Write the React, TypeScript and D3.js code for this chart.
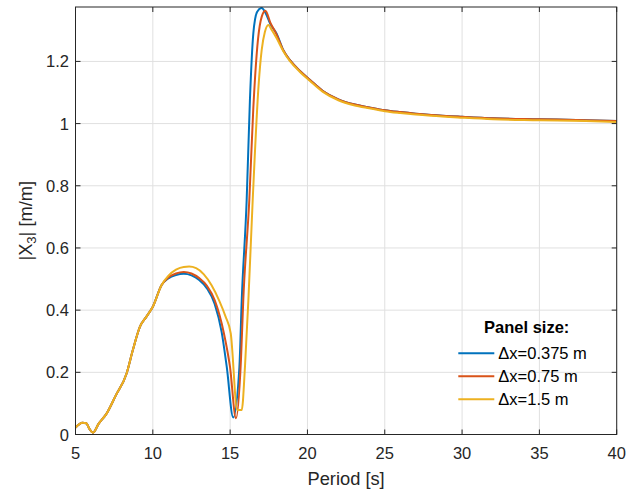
import React from "react";
import * as d3 from "d3";

const xTicks = [5, 10, 15, 20, 25, 30, 35, 40];
const yTicks = [0, 0.2, 0.4, 0.6, 0.8, 1, 1.2];
const yTickLabels = ["0", "0.2", "0.4", "0.6", "0.8", "1", "1.2"];

const seriesNames = ["\u0394x=0.375 m", "\u0394x=0.75 m", "\u0394x=1.5 m"];
const seriesColors = ["#0072BD", "#D95319", "#EDB120"];

const commonPeriods = [5.0, 5.45, 5.7, 5.9, 6.13, 6.5, 7.02, 7.6, 8.31, 8.7, 9.17, 9.6, 10.0, 10.57];
const commonValues = [0.022, 0.038, 0.036, 0.018, 0.006, 0.035, 0.068, 0.125, 0.197, 0.27, 0.347, 0.38, 0.411, 0.481];

const tailPeriods = [18.44, 18.87, 19.5, 20.17, 21, 22, 23, 24, 25, 26, 27, 28, 30, 32, 35, 38, 40];
const tailValues = [1.236, 1.204, 1.17, 1.14, 1.105, 1.078, 1.062, 1.052, 1.043, 1.037, 1.032, 1.028, 1.022, 1.017, 1.014, 1.011, 1.008];

const bluePeriods = [11.0, 11.5, 12.0, 12.5, 13.0, 13.5, 14.0, 14.45, 14.78, 15.2, 15.6, 15.75, 16.07, 16.28, 16.5, 16.75, 17.04, 17.3, 17.6, 18.0];
const blueValues = [0.502, 0.513, 0.517, 0.512, 0.497, 0.47, 0.42, 0.33, 0.218, 0.055, 0.218, 0.432, 0.754, 1.076, 1.29, 1.36, 1.372, 1.355, 1.32, 1.29];

const redPeriods = [11.0, 11.5, 12.0, 12.5, 13.0, 13.5, 14.0, 14.6, 14.99, 15.38, 15.7, 15.85, 16.24, 16.5, 16.8, 17.05, 17.28, 17.6, 18.0];
const redValues = [0.505, 0.518, 0.523, 0.518, 0.503, 0.478, 0.432, 0.325, 0.218, 0.052, 0.24, 0.432, 0.754, 1.05, 1.27, 1.345, 1.363, 1.325, 1.287];

const yellowPeriods = [11.0, 11.5, 12.0, 12.35, 12.8, 13.3, 13.8, 14.3, 14.7, 15.04, 15.46, 15.75, 15.96, 16.18, 16.46, 16.85, 17.04, 17.25, 17.47, 17.7, 18.0];
const yellowValues = [0.51, 0.53, 0.539, 0.54, 0.535, 0.515, 0.48, 0.43, 0.38, 0.325, 0.079, 0.079, 0.218, 0.432, 0.754, 1.13, 1.236, 1.295, 1.317, 1.3, 1.275];

const W = 637;
const H = 495;
const L = 75.5;
const R = 616.7;
const T = 7;
const B = 434.5;

export default function App() {
  const x = d3.scaleLinear().domain([5, 40]).range([L, R]);
  const y = d3.scaleLinear().domain([0, 1.375]).range([B, T]);

  const build = (ps: number[], vs: number[]) => {
    const pts: [number, number][] = [];
    commonPeriods.forEach((p, i) => pts.push([p, commonValues[i]]));
    ps.forEach((p, i) => pts.push([p, vs[i]]));
    tailPeriods.forEach((p, i) => pts.push([p, tailValues[i]]));
    return pts;
  };
  const series = [
    build(bluePeriods, blueValues),
    build(redPeriods, redValues),
    build(yellowPeriods, yellowValues).map(([p, v]) => [p, p > 18.2 ? v - 0.003 : v] as [number, number]),
  ];
  const line = d3
    .line<[number, number]>()
    .x((d) => x(d[0]))
    .y((d) => y(d[1]))
    .curve(d3.curveMonotoneX);

  const axisColor = "#262626";
  const gridColor = "#e0e0e0";
  const font = "'Liberation Sans', Arial, Helvetica, sans-serif";
  const tickLen = 5;

  const legX1 = 458.3;
  const legX2 = 494.3;
  const legY0 = 353.3;
  const legDy = 23;

  return (
    <svg width={W} height={H} style={{ position: "absolute", left: 0, top: 0, background: "#fff" }} fontFamily={font}>
      <defs>
        <clipPath id="plotclip">
          <rect x={L} y={T} width={R - L} height={B - T} />
        </clipPath>
      </defs>
      <rect x={0} y={0} width={W} height={H} fill="#fff" />
      {xTicks.map((t) => (
        <line key={"gx" + t} x1={x(t)} x2={x(t)} y1={T} y2={B} stroke={gridColor} strokeWidth={1} />
      ))}
      {yTicks.map((t) => (
        <line key={"gy" + t} x1={L} x2={R} y1={y(t)} y2={y(t)} stroke={gridColor} strokeWidth={1} />
      ))}
      <g clipPath="url(#plotclip)">
        {series.map((s, i) => (
          <path key={i} d={line(s) || ""} fill="none" stroke={seriesColors[i]} strokeWidth={2} strokeLinejoin="round" />
        ))}
      </g>
      <rect x={L} y={T} width={R - L} height={B - T} fill="none" stroke={axisColor} strokeWidth={1} />
      {xTicks.map((t) => (
        <g key={"tx" + t}>
          <line x1={x(t)} x2={x(t)} y1={B} y2={B - tickLen} stroke={axisColor} />
          <line x1={x(t)} x2={x(t)} y1={T} y2={T + tickLen} stroke={axisColor} />
          <text x={x(t)} y={459} textAnchor="middle" fontSize={16.5} fill={axisColor}>
            {t}
          </text>
        </g>
      ))}
      {yTicks.map((t, i) => (
        <g key={"ty" + t}>
          <line x1={L} x2={L + tickLen} y1={y(t)} y2={y(t)} stroke={axisColor} />
          <line x1={R} x2={R - tickLen} y1={y(t)} y2={y(t)} stroke={axisColor} />
          <text x={69} y={y(t) + 6} textAnchor="end" fontSize={16.5} fill={axisColor}>
            {yTickLabels[i]}
          </text>
        </g>
      ))}
      <text x={(L + R) / 2} y={485} textAnchor="middle" fontSize={18.3} fill={axisColor}>
        Period [s]
      </text>
      <text transform={`translate(32, ${(T + B) / 2}) rotate(-90)`} textAnchor="middle" fontSize={18.3} fill={axisColor}>
        |X<tspan fontSize={13} dy={4}>3</tspan>
        <tspan dy={-4}>| [m/m]</tspan>
      </text>
      <text x={526.7} y={333} textAnchor="middle" fontSize={16.5} fontWeight="bold" fill="#000">
        Panel size:
      </text>
      {seriesNames.map((n, i) => (
        <g key={"leg" + i}>
          <line x1={legX1} x2={legX2} y1={legY0 + i * legDy} y2={legY0 + i * legDy} stroke={seriesColors[i]} strokeWidth={2} />
          <text x={498.3} y={legY0 + i * legDy + 6} fontSize={16.5} fill="#000">
            {n}
          </text>
        </g>
      ))}
    </svg>
  );
}
